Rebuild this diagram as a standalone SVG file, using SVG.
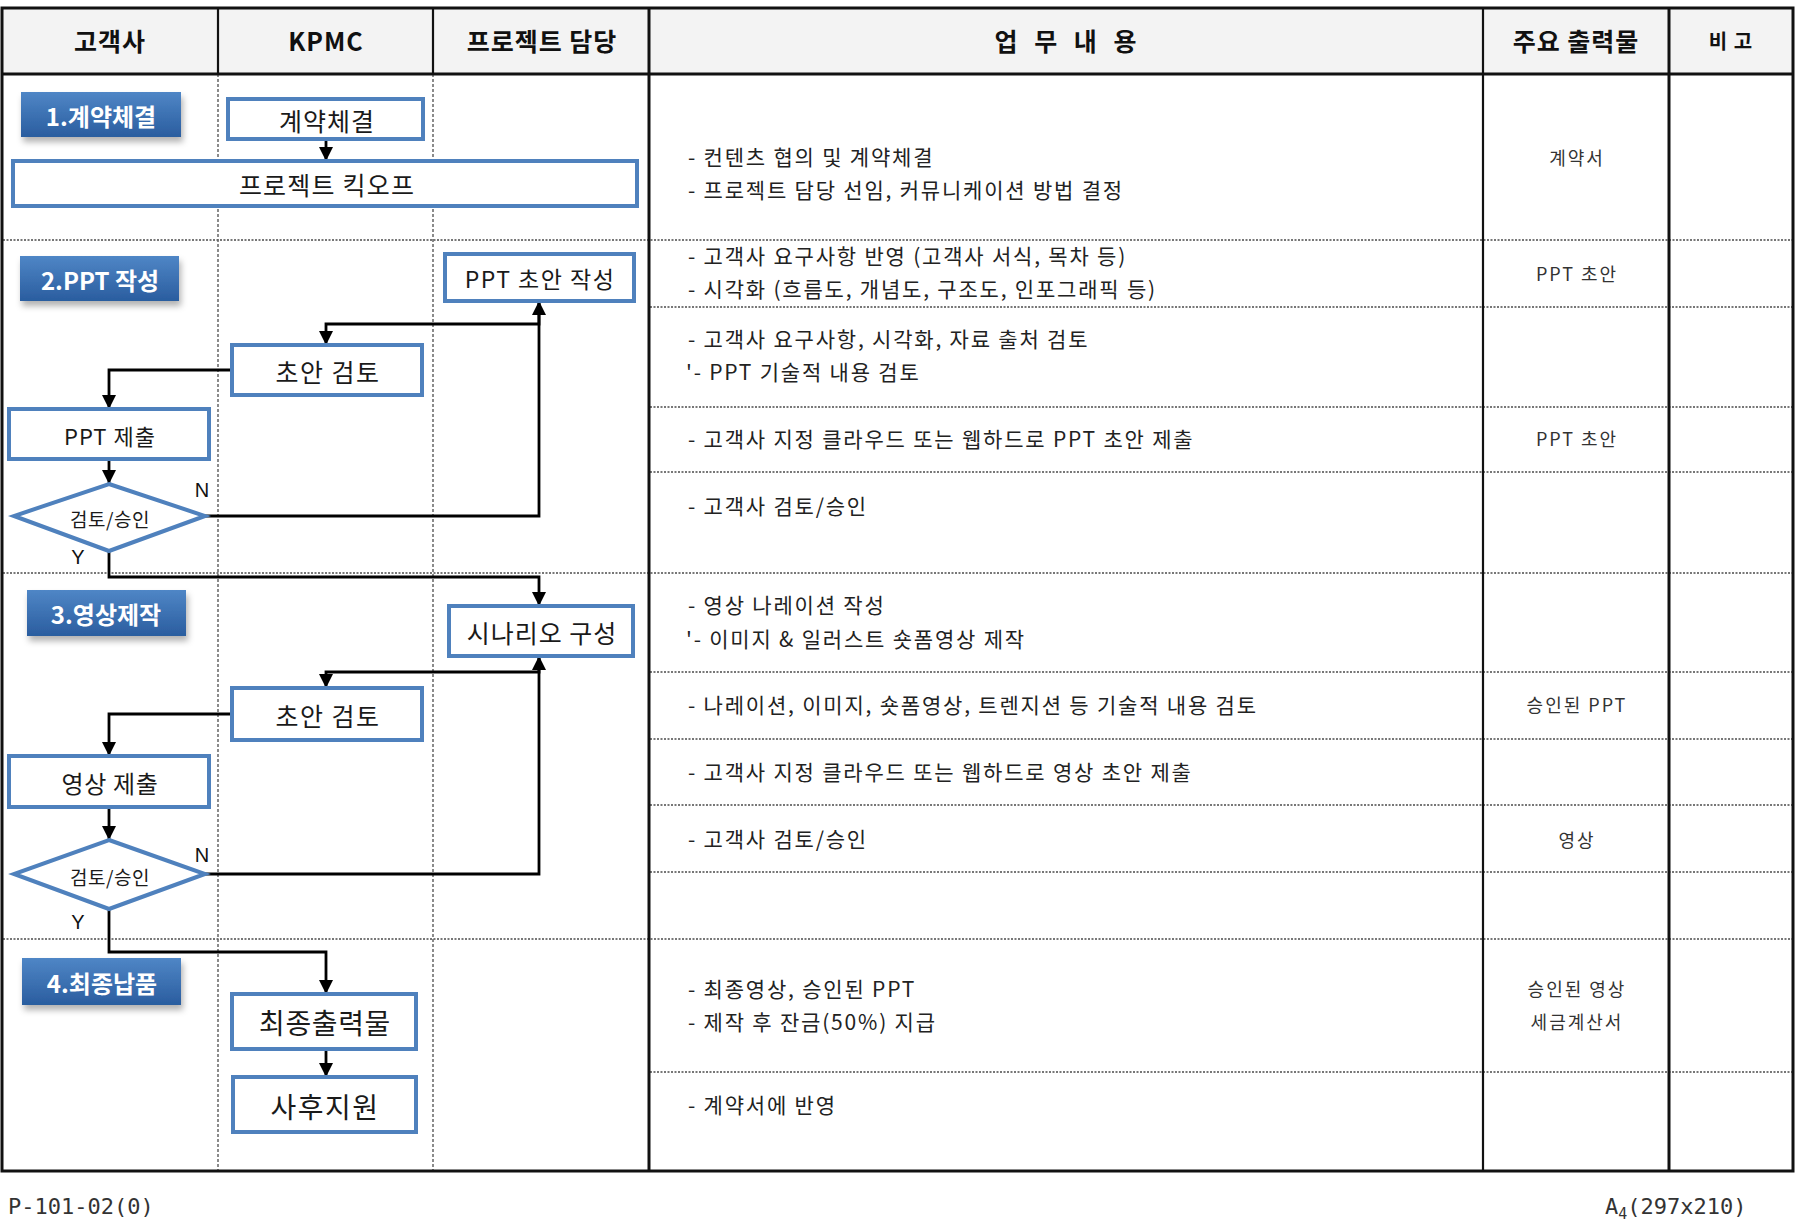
<svg xmlns="http://www.w3.org/2000/svg" width="1807" height="1225" viewBox="0 0 1807 1225">
<defs>
<linearGradient id="phaseGrad" x1="0" y1="0" x2="0" y2="1">
<stop offset="0" stop-color="#4f86c6"/>
<stop offset="1" stop-color="#2a5d9f"/>
</linearGradient>
<filter id="shadow" x="-10%" y="-20%" width="130%" height="160%">
<feDropShadow dx="2" dy="5" stdDeviation="3" flood-color="#000" flood-opacity="0.3"/>
</filter>
<marker id="arr" viewBox="0 0 10 10" refX="10" refY="5" markerWidth="14" markerHeight="14" markerUnits="userSpaceOnUse" orient="auto">
<path d="M0,0 L10,5 L0,10 z" fill="#000"/>
</marker>
</defs>
<style>
.hdr{font-family:"Noto Sans CJK KR","Noto Sans",sans-serif;font-weight:bold;font-size:25px;letter-spacing:1px;fill:#111;text-anchor:middle;dominant-baseline:central}
.body{font-family:"Noto Sans CJK KR","Noto Sans",sans-serif;font-size:21px;letter-spacing:1.8px;fill:#222;dominant-baseline:central}
.out{font-family:"Noto Sans CJK KR","Noto Sans",sans-serif;font-size:18px;letter-spacing:2px;fill:#333;text-anchor:middle;dominant-baseline:central}
.node rect,.node polygon{fill:#fff;stroke:#4f81bd;stroke-width:4}
.node text{font-family:"Noto Sans CJK KR","Noto Sans",sans-serif;fill:#1a1a1a;text-anchor:middle;dominant-baseline:central}
.phase rect{fill:url(#phaseGrad);filter:url(#shadow)}
.phase text{font-family:"Noto Sans CJK KR","Noto Sans",sans-serif;font-weight:bold;font-size:24px;fill:#fff;text-anchor:middle;dominant-baseline:central}
.sep{stroke:#777;stroke-width:2;stroke-dasharray:2 1.5;fill:none}
.lane{stroke:#666;stroke-width:1.5;stroke-dasharray:3 2;fill:none}
.solid{stroke:#111;stroke-width:3;fill:none}
.thin{stroke:#111;stroke-width:2.2;fill:none}
.conn path{stroke:#000;stroke-width:2.8;fill:none;marker-end:url(#arr)}
.lbl{font-family:"Liberation Sans",sans-serif;font-size:20px;fill:#111;text-anchor:middle;dominant-baseline:central}
.foot{font-family:"DejaVu Sans Mono","Liberation Mono",monospace;font-size:22px;fill:#333}
</style>
<rect x="0" y="0" width="1807" height="1225" fill="#fff"/>
<g id="table">
<rect x="2" y="8" width="1791" height="66" fill="#f3f3f3"/>
<line class="sep" x1="3" y1="240" x2="1792" y2="240"/>
<line class="sep" x1="650" y1="307" x2="1792" y2="307"/>
<line class="sep" x1="650" y1="407" x2="1792" y2="407"/>
<line class="sep" x1="650" y1="472" x2="1792" y2="472"/>
<line class="sep" x1="3" y1="573" x2="1792" y2="573"/>
<line class="sep" x1="650" y1="672" x2="1792" y2="672"/>
<line class="sep" x1="650" y1="739" x2="1792" y2="739"/>
<line class="sep" x1="650" y1="805" x2="1792" y2="805"/>
<line class="sep" x1="650" y1="872" x2="1792" y2="872"/>
<line class="sep" x1="3" y1="939" x2="1792" y2="939"/>
<line class="sep" x1="650" y1="1072" x2="1792" y2="1072"/>
<line class="lane" x1="218" y1="74" x2="218" y2="1171"/>
<line class="lane" x1="433" y1="74" x2="433" y2="1171"/>
<line class="thin" x1="218" y1="8" x2="218" y2="74"/>
<line class="thin" x1="433" y1="8" x2="433" y2="74"/>
<line class="solid" x1="649" y1="8" x2="649" y2="1171"/>
<line class="thin" x1="1483" y1="8" x2="1483" y2="1171"/>
<line class="solid" x1="1669" y1="8" x2="1669" y2="1171"/>
<line class="solid" x1="2" y1="74" x2="1793" y2="74"/>
<rect x="2" y="8" width="1791" height="1163" fill="none" stroke="#111" stroke-width="3"/>
<text class="hdr" x="110" y="40">고객사</text>
<text class="hdr" x="326" y="40">KPMC</text>
<text class="hdr" x="542" y="40">프로젝트 담당</text>
<text class="hdr" x="1066" y="40" word-spacing="9">업 무 내 용</text>
<text class="hdr" x="1576" y="40">주요 출력물</text>
<text class="hdr" x="1731" y="40" style="font-size:20px">비 고</text>
<text class="body" x="688" y="156">- 컨텐츠 협의 및 계약체결</text>
<text class="body" x="688" y="189">- 프로젝트 담당 선임, 커뮤니케이션 방법 결정</text>
<text class="body" x="688" y="255">- 고객사 요구사항 반영 (고객사 서식, 목차 등)</text>
<text class="body" x="688" y="288">- 시각화 (흐름도, 개념도, 구조도, 인포그래픽 등)</text>
<text class="body" x="688" y="338">- 고객사 요구사항, 시각화, 자료 출처 검토</text>
<text class="body" x="686" y="371">'- PPT 기술적 내용 검토</text>
<text class="body" x="688" y="438">- 고객사 지정 클라우드 또는 웹하드로 PPT 초안 제출</text>
<text class="body" x="688" y="505">- 고객사 검토/승인</text>
<text class="body" x="688" y="604">- 영상 나레이션 작성</text>
<text class="body" x="686" y="638">'- 이미지 &amp; 일러스트 숏폼영상 제작</text>
<text class="body" x="688" y="704">- 나레이션, 이미지, 숏폼영상, 트렌지션 등 기술적 내용 검토</text>
<text class="body" x="688" y="771">- 고객사 지정 클라우드 또는 웹하드로 영상 초안 제출</text>
<text class="body" x="688" y="838">- 고객사 검토/승인</text>
<text class="body" x="688" y="988">- 최종영상, 승인된 PPT</text>
<text class="body" x="688" y="1021">- 제작 후 잔금(50%) 지급</text>
<text class="body" x="688" y="1104">- 계약서에 반영</text>
<text class="out" x="1577" y="157">계약서</text>
<text class="out" x="1577" y="273">PPT 초안</text>
<text class="out" x="1577" y="438">PPT 초안</text>
<text class="out" x="1577" y="704">승인된 PPT</text>
<text class="out" x="1577" y="839">영상</text>
<text class="out" x="1577" y="988">승인된 영상</text>
<text class="out" x="1577" y="1021">세금계산서</text>
</g>
<g id="phase1" class="phase"><rect x="21" y="92" width="160" height="45"/><text x="101" y="115">1.계약체결</text></g>
<g id="phase2" class="phase"><rect x="20" y="256" width="159" height="45"/><text x="100" y="279">2.PPT 작성</text></g>
<g id="phase3" class="phase"><rect x="27" y="590" width="159" height="46"/><text x="106" y="613">3.영상제작</text></g>
<g id="phase4" class="phase"><rect x="22" y="958" width="159" height="47"/><text x="102" y="982">4.최종납품</text></g>
<g id="connectors" class="conn">
<path d="M326 139 L326 161"/>
<path d="M539 301 L539 324 L326 324 L326 345"/>
<path d="M232 370 L109 370 L109 409"/>
<path d="M109 459 L109 484"/>
<path d="M205 516 L539 516 L539 301"/>
<path d="M109 551 L109 577 L539 577 L539 606"/>
<path d="M539 656 L539 672 L326 672 L326 688"/>
<path d="M232 714 L109 714 L109 756"/>
<path d="M109 807 L109 840"/>
<path d="M205 874 L539 874 L539 656"/>
<path d="M109 909 L109 952 L326 952 L326 994"/>
<path d="M326 1049 L326 1077"/>
</g>
<g id="n-contract" class="node"><rect x="228" y="99" width="195" height="40"/><text x="327" y="120" font-size="25" letter-spacing="1">계약체결</text></g>
<g id="n-kickoff" class="node"><rect x="13" y="161" width="624" height="45"/><text x="327" y="184" font-size="25" letter-spacing="1.2">프로젝트 킥오프</text></g>
<g id="n-pptdraft" class="node"><rect x="445" y="254" width="189" height="47"/><text x="540" y="278" font-size="23" letter-spacing="1.5">PPT 초안 작성</text></g>
<g id="n-review1" class="node"><rect x="232" y="345" width="190" height="50"/><text x="328" y="371" font-size="25" letter-spacing="1.5">초안 검토</text></g>
<g id="n-pptsubmit" class="node"><rect x="9" y="409" width="200" height="50"/><text x="110" y="435" font-size="22" letter-spacing="1">PPT 제출</text></g>
<g id="n-approve1" class="node"><polygon points="109,484 205,516 109,551 14,516"/><text x="110" y="518" font-size="19" letter-spacing="0.5">검토/승인</text></g>
<g id="n-scenario" class="node"><rect x="449" y="606" width="184" height="50"/><text x="542" y="632" font-size="25" letter-spacing="1">시나리오 구성</text></g>
<g id="n-review2" class="node"><rect x="232" y="688" width="190" height="52"/><text x="328" y="715" font-size="25" letter-spacing="1.5">초안 검토</text></g>
<g id="n-videosubmit" class="node"><rect x="9" y="756" width="200" height="51"/><text x="110" y="782" font-size="24" letter-spacing="0.7">영상 제출</text></g>
<g id="n-approve2" class="node"><polygon points="109,840 205,874 109,909 14,874"/><text x="110" y="876" font-size="19" letter-spacing="0.5">검토/승인</text></g>
<g id="n-final" class="node"><rect x="232" y="994" width="184" height="55"/><text x="325" y="1022" font-size="28" letter-spacing="0.6">최종출력물</text></g>
<g id="n-support" class="node"><rect x="233" y="1077" width="183" height="55"/><text x="325" y="1106" font-size="28" letter-spacing="1.5">사후지원</text></g>
<text class="lbl" x="202" y="490">N</text>
<text class="lbl" x="78" y="557">Y</text>
<text class="lbl" x="202" y="855">N</text>
<text class="lbl" x="78" y="922">Y</text>
<text class="foot" x="8" y="1214">P-101-02(0)</text>
<text class="foot" x="1605" y="1214">A<tspan font-size="15" dy="5">4</tspan><tspan dy="-5">(297x210)</tspan></text>
</svg>
